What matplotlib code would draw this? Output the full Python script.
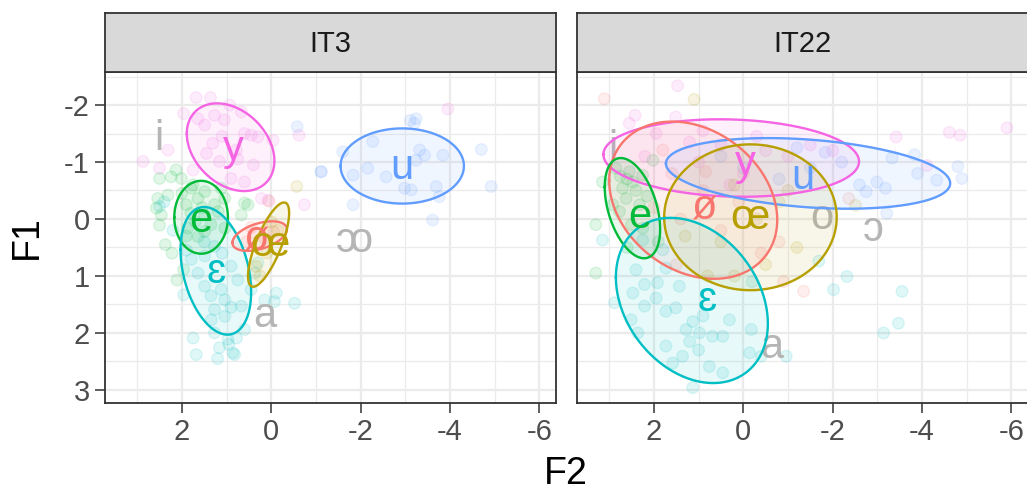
import numpy as np
import matplotlib
matplotlib.use("Agg")
import matplotlib.pyplot as plt
from matplotlib.ticker import FixedLocator

plt.rcParams['font.family'] = ['Liberation Sans', 'DejaVu Sans']
plt.rcParams['axes.unicode_minus'] = False

# vowel colours (ggplot hue palette), grey for label-only vowels
VOWELS = ['ø', 'œ', 'e', 'ɛ', 'u', 'y']
COLORS = ['#F8766D', '#B79F00', '#00BA38', '#00BFC4', '#619CFF', '#F564E3']
GREY = '#B5B5B5'
VCOL = dict(zip(VOWELS, COLORS))

# ---- IT3 tokens: (vowel, F2, F1)
IT3_vowel = (['y'] * 31 + ['u'] * 23 + ['e'] * 36 + ['ɛ'] * 40 + ['ø'] * 6 + ['œ'] * 6)
IT3_F2 = [1.68, 1.36, 1.96, 1.64, 1.49, 1.27, 1.05, 0.93, 0.67, 0.60, 0.30, -0.04, 1.31, 2.31, 2.87,
          2.50, 1.75, 1.16, 0.90, 0.60, 0.22, 0.07, -0.74, 0.45, 0.78, -0.62, -3.95, 1.10, 0.75, 1.45, 0.40,
          -0.58, -1.11, -3.11, -3.24, -3.20, -2.27, -1.60, -2.16, -1.83, -2.57, -3.32, -3.43, -3.24, -3.84,
          -4.70, -2.98, -3.13, -3.69, -3.76, -4.92, -1.83, -3.61, -1.12,
          2.13, 2.24, 2.50, 2.01, 2.54, 2.57, 2.46, 2.50, 2.31, 1.79, 1.49, 1.12, 1.04, 1.27, 1.90, 1.64,
          1.49, 1.19, 0.60, 0.52, 0.67, 1.04, 1.49, 1.87, 2.37, 2.22, 2.11, 1.96, 1.64, 1.80, 1.70, 1.55,
          1.90, 2.00, 1.35, 1.75,
          1.96, 1.79, 1.49, 1.12, 0.90, 0.75, 1.27, 1.04, 0.67, 0.45, 0.15, -0.11, -0.07, -0.52, 1.75, 1.27,
          1.16, 0.97, 0.78, 1.68, 0.82, 0.60, 1.49, 1.27, 1.64, 0.37, 0.30, 1.34, 1.04, 2.50, 2.40, 2.20,
          1.90, 1.50, 1.10, 0.90, 1.35, 1.20, 0.95, 0.86,
          0.35, 0.15, 0.55, -0.05, 0.45, 0.05,
          -0.57, 0.34, 0.10, -0.15, 0.25, 0.00]
IT3_F1 = [-2.13, -2.13, -1.85, -1.76, -1.65, -1.82, -1.74, -2.00, -1.88, -1.50, -1.44, -1.38, -1.33, -1.21,
          -1.01, -0.89, -0.86, -1.01, -0.71, -0.65, -0.36, -0.33, -0.25, -1.47, -1.21, -1.47, -1.93, -1.45,
          -1.05, -1.15, -0.95,
          -1.62, -0.83, -1.73, -1.76, -1.68, -1.36, -1.18, -0.89, -0.77, -0.74, -1.21, -1.12, -1.03, -1.12,
          -1.22, -0.54, -0.51, -0.57, -0.39, -0.57, -0.25, 0.02, -0.83,
          -0.86, -0.74, -0.71, -0.71, -0.36, -0.19, -0.07, 0.11, -0.42, -0.54, -0.48, -0.54, -0.36, -0.25,
          -0.25, -0.36, -0.07, -0.13, -0.28, -0.25, -0.07, 0.16, 0.22, 0.16, 0.45, 0.60, 1.07, 0.89, 0.31,
          -0.10, 0.05, -0.20, 0.30, -0.45, 0.10, -0.60,
          1.33, 0.71, 1.18, 1.24, 0.83, 1.07, 1.59, 1.42, 1.53, 1.24, 1.42, 1.30, 1.45, 1.48, 2.09, 2.00,
          2.26, 2.11, 2.09, 2.38, 2.38, 1.94, 0.65, 0.48, 0.95, 0.95, 0.77, 1.77, 1.71, -0.22, -0.30, 0.20,
          0.55, 0.40, 0.60, 1.55, 1.35, 2.45, 2.20, 2.35,
          0.25, 0.35, 0.40, 0.22, 0.15, -0.31,
          -0.57, 0.83, 0.60, 0.20, 1.00, 0.05]

# ---- IT22 tokens
IT22_vowel = (['y'] * 22 + ['u'] * 18 + ['e'] * 21 + ['ɛ'] * 42 + ['ø'] * 15 + ['œ'] * 12)
IT22_F2 = [1.47, 2.42, 2.55, 1.51, 1.95, -3.42, -4.61, -4.85, -5.90, -4.11, -0.50, 0.50, 1.00, -1.00,
           0.00, -1.50, 1.20, 2.20, 0.30, -2.00, 0.90, -0.30,
           -1.83, -3.33, -3.83, -4.80, -4.89, -4.33, -2.99, -3.18, -2.75, -3.21, -0.80, -1.50, 0.00, -2.20,
           -2.60, 0.50, -1.20, -3.90,
           3.15, 2.85, 2.70, 2.62, 2.47, 2.25, 2.02, 2.77, 2.25, 2.92, 2.55, 2.32, 2.60, 2.75, 2.40, 2.50,
           2.15, 3.30, 1.90, 2.60, 3.30,
           3.15, 2.88, 2.40, 2.47, 2.21, 1.92, 1.73, 1.43, 2.21, 1.95, 1.73, 1.51, 1.13, 1.28, 0.98, 0.69,
           0.46, 1.73, 1.36, 1.58, 0.76, 0.46, 1.13, 0.31, -0.18, -0.14, -0.40, -0.96, 2.36, 2.51, 1.80,
           2.25, -1.69, -2.32, -2.02, -3.55, -3.47, -3.14, 1.00, 1.20, 0.90, -0.20,
           3.11, 1.80, 0.84, 1.60, 0.90, 0.50, 1.40, 0.10, -0.40, 1.50, -0.90, -1.35, -2.36, 2.00, -0.80,
           1.10, -2.51, 0.50, -0.30, -0.80, 0.20, -1.20, 0.80, 0.20, -1.00, 1.30, -0.50]
IT22_F1 = [-2.34, -1.82, -1.68, -1.79, -1.50, -1.44, -1.52, -1.47, -1.60, -0.94, -1.20, -1.30, -1.00,
           -1.10, -0.80, -1.30, -1.35, -1.10, -0.60, -1.20, -1.55, -1.45,
           -1.17, -1.07, -1.13, -0.92, -0.71, -0.68, -0.65, -0.54, -0.48, -0.10, -0.70, -0.90, -0.90, -1.00,
           -0.60, -1.10, -1.25, -0.80,
           -0.65, -0.89, -0.54, -0.36, -0.65, -0.77, -1.03, -0.13, 0.16, -0.25, -0.83, -0.25, -0.70, -0.75,
           -0.50, 0.10, -0.40, 0.10, 0.40, 0.50, 0.95,
           0.37, 1.47, 0.89, 1.30, 1.15, 1.12, 0.86, 1.18, 1.53, 1.39, 1.62, 1.56, 1.80, 1.94, 2.00, 2.06,
           2.06, 2.23, 2.41, 2.53, 2.59, 2.70, 2.96, 1.77, 1.94, 2.35, 2.41, 2.41, 2.00, 1.77, 0.54, 0.37,
           0.74, 1.01, 1.24, 1.27, 1.83, 2.00, 2.30, 2.15, 1.70, 1.10,
           -2.11, -1.21, -0.83, -0.80, -0.50, 0.20, 0.00, -0.30, 0.60, 0.80, 1.10, 1.27, -0.36, -0.20, 0.40,
           -2.10, -0.24, 0.40, 0.00, -0.30, -0.60, 0.50, 1.00, 1.00, -0.50, 0.30, 0.80]

# ---- ellipses: centre (F2, F1), half extents, correlation
IT3_ell_vowel = ['y', 'u', 'e', 'ɛ', 'ø', 'œ']
IT3_ell_cx = [0.91, -2.93, 1.57, 1.24, 0.26, 0.06]
IT3_ell_cy = [-1.26, -0.93, -0.03, 0.91, 0.30, 0.45]
IT3_ell_hx = [0.98, 1.38, 0.60, 0.79, 0.61, 0.46]
IT3_ell_hy = [0.77, 0.66, 0.64, 1.12, 0.26, 0.74]
IT3_ell_r = [-0.31, 0.0, 0.0, -0.33, 0.45, 0.75]

IT22_ell_vowel = ['y', 'u', 'ø', 'œ', 'e', 'ɛ']
IT22_ell_cx = [0.27, -1.45, 1.12, -0.16, 2.48, 1.15]
IT22_ell_cy = [-1.07, -0.80, -0.33, -0.03, -0.19, 1.43]
IT22_ell_hx = [2.86, 3.18, 1.88, 1.93, 0.62, 1.70]
IT22_ell_hy = [0.68, 0.62, 1.38, 1.28, 0.88, 1.45]
IT22_ell_r = [-0.09, -0.28, -0.25, 0.0, -0.42, -0.28]

# ---- vowel labels
IT3_lab = ['i', 'y', 'u', 'e', 'ø', 'œ', 'ɛ', 'a', 'ɔ', 'o']
IT3_lab_F2 = [2.51, 0.86, -2.91, 1.57, 0.34, 0.04, 1.23, 0.15, -1.68, -2.01]
IT3_lab_F1 = [-1.40, -1.22, -0.89, 0.04, 0.36, 0.45, 0.93, 1.71, 0.38, 0.38]

IT22_lab = ['i', 'y', 'u', 'e', 'ø', 'œ', 'o', 'ɔ', 'ɛ', 'a']
IT22_lab_F2 = [2.91, -0.04, -1.34, 2.31, 0.89, -0.15, -1.75, -2.91, 0.82, -0.64]
IT22_lab_F1 = [-1.22, -0.97, -0.72, -0.04, -0.19, -0.01, -0.01, 0.20, 1.42, 2.25]

X_TICKS = [2, 0, -2, -4, -6]
Y_TICKS = [-2, -1, 0, 1, 2, 3]

W, H = 1027, 493
fig = plt.figure(figsize=(W / 100, H / 100), dpi=100)


def px_axes(x0, y0, x1, y1):
    return fig.add_axes([x0 / W, 1 - y1 / H, (x1 - x0) / W, (y1 - y0) / H])


def draw_panel(ax, title, vowel, f2, f1, ev, ecx, ecy, ehx, ehy, er, lab, lf2, lf1, show_y):
    ax.set_xlim(3.72, -6.37)
    ax.set_ylim(3.23, -2.58)
    ax.set_xticks(X_TICKS)
    ax.set_xticklabels([str(v) for v in X_TICKS])
    ax.xaxis.set_minor_locator(FixedLocator([3, 1, -1, -3, -5]))
    ax.set_yticks(Y_TICKS)
    ax.set_yticklabels([str(v) for v in Y_TICKS])
    ax.yaxis.set_minor_locator(FixedLocator([-2.5, -1.5, -0.5, 0.5, 1.5, 2.5]))
    ax.grid(which='major', color='#EBEBEB', lw=1.6, zorder=0)
    ax.grid(which='minor', color='#EBEBEB', lw=0.9, zorder=0)
    ax.set_axisbelow(True)
    ax.tick_params(which='major', length=7, width=1.1, color='#333333', labelsize=21,
                   labelcolor='#4D4D4D', pad=4)
    ax.tick_params(which='minor', length=0)
    if not show_y:
        ax.tick_params(axis='y', which='both', left=False, labelleft=False)
    for s in ax.spines.values():
        s.set_color('#333333')
        s.set_linewidth(1.3)

    # points
    cols = [VCOL[v] for v in vowel]
    ax.scatter(f2, f1, s=70, c=cols, alpha=0.12, linewidths=1.0, zorder=2)

    # grey label-only vowels sit under the ellipses
    for t, x, y in zip(lab, lf2, lf1):
        if t not in VCOL:
            ax.text(x, y, t, color=GREY, fontsize=30, ha='center', va='center', zorder=3)

    # ellipses
    tt = np.linspace(0, 2 * np.pi, 240)
    for v, cx, cy, hx, hy, r in zip(ev, ecx, ecy, ehx, ehy, er):
        ex = cx + hx * np.cos(tt)
        ey = cy + hy * (r * np.cos(tt) + np.sqrt(1 - r * r) * np.sin(tt))
        ax.fill(ex, ey, color=VCOL[v], alpha=0.09, lw=0, zorder=4)
        ax.plot(ex, ey, color=VCOL[v], lw=1.7, zorder=5)

    for t, x, y in zip(lab, lf2, lf1):
        if t in VCOL:
            ax.text(x, y, t, color=VCOL[t], fontsize=30, ha='center', va='center', zorder=6)

    # facet strip
    bb = ax.get_position()
    sx = fig.add_axes([bb.x0, bb.y1, bb.width, 59 / H])
    sx.set_facecolor('#D9D9D9')
    sx.set_xticks([])
    sx.set_yticks([])
    for s in sx.spines.values():
        s.set_color('#333333')
        s.set_linewidth(1.3)
    sx.text(0.5, 0.48, title, ha='center', va='center', fontsize=21, color='#1A1A1A',
            transform=sx.transAxes)


ax1 = px_axes(105, 72, 556, 403)
ax2 = px_axes(577, 72, 1028, 403)

draw_panel(ax1, 'IT3', IT3_vowel, IT3_F2, IT3_F1, IT3_ell_vowel, IT3_ell_cx, IT3_ell_cy,
           IT3_ell_hx, IT3_ell_hy, IT3_ell_r, IT3_lab, IT3_lab_F2, IT3_lab_F1, True)
draw_panel(ax2, 'IT22', IT22_vowel, IT22_F2, IT22_F1, IT22_ell_vowel, IT22_ell_cx, IT22_ell_cy,
           IT22_ell_hx, IT22_ell_hy, IT22_ell_r, IT22_lab, IT22_lab_F2, IT22_lab_F1, False)

fig.text(27 / W, 1 - 237 / H, 'F1', rotation=90, ha='center', va='center', fontsize=27)
fig.text(566 / W, 1 - 474 / H, 'F2', ha='center', va='center', fontsize=27)

fig.savefig('out.png', dpi=100, facecolor='white')
